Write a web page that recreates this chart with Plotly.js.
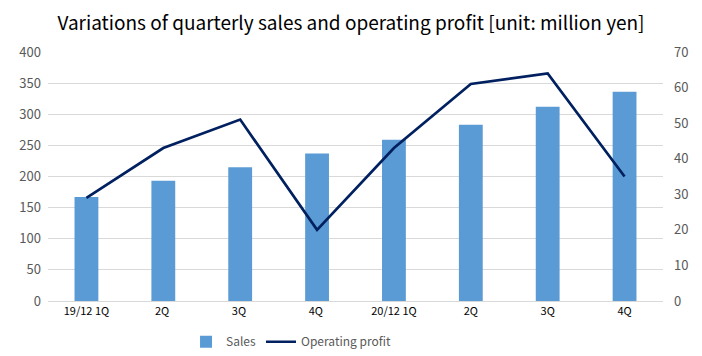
<!DOCTYPE html>
<html>
<head>
<meta charset="utf-8">
<script src="https://cdn.plot.ly/plotly-3.0.1.min.js"></script>
<style>html,body{margin:0;padding:0;background:#fff;}#chart{width:702px;height:356px;}</style>
</head>
<body>
<div id="chart"></div>
<script>
const categories = ["19/12 1Q", "2Q ", "3Q ", "4Q ", "20/12 1Q", "2Q", "3Q", "4Q"];
const sales = [167, 193, 215, 237, 259, 283, 312, 336];
const operatingProfit = [29, 43, 51, 20, 43, 61, 64, 35];
const leftTicks = [0, 50, 100, 150, 200, 250, 300, 350, 400];
const rightTicks = [0, 10, 20, 30, 40, 50, 60, 70];

const font = "'Noto Sans CJK JP', 'DejaVu Sans', sans-serif";
const data = [
  {type: "bar", name: "Sales", x: categories, y: sales, marker: {color: "#5b9bd5"}, width: 0.31},
  {type: "scatter", mode: "lines", name: "Operating profit", x: categories, y: operatingProfit, yaxis: "y2",
   line: {color: "#002060", width: 2.7}}
];
const layout = {
  width: 702, height: 356,
  margin: {l: 48, r: 39, t: 52, b: 55, autoexpand: false},
  paper_bgcolor: "#fff", plot_bgcolor: "#fff",
  font: {family: font, size: 12, color: "#595959"},
  title: {text: "Variations of quarterly sales and operating profit [unit: million yen]",
          font: {family: font, size: 19, color: "#000"}, x: 0.5, xanchor: "center",
          yref: "container", y: 0.935, yanchor: "middle"},
  showlegend: true,
  legend: {orientation: "h", xref: "container", x: 0.265, xanchor: "left", yref: "container", y: 0.04, yanchor: "middle",
           font: {family: font, size: 12, color: "#595959"}, itemwidth: 30, tracegroupgap: 0},
  bargap: 0.69,
  xaxis: {type: "category", showgrid: false, showline: true, linecolor: "#d9d9d9", linewidth: 1,
          ticks: "", tickfont: {family: font, size: 11, color: "#000"}, fixedrange: true},
  yaxis: {range: [0, 400], tickvals: leftTicks, showgrid: true, gridcolor: "#d9d9d9", gridwidth: 1,
          zeroline: false, ticks: "", ticklabelstandoff: 6,
          tickfont: {family: font, size: 13, color: "#595959"}, fixedrange: true},
  yaxis2: {range: [0, 70], tickvals: rightTicks, overlaying: "y", side: "right", showgrid: false,
           zeroline: false, ticks: "", ticklabelstandoff: 10,
           tickfont: {family: font, size: 13, color: "#595959"}, fixedrange: true}
};
Plotly.newPlot("chart", data, layout, {staticPlot: true});
</script>
</body>
</html>
